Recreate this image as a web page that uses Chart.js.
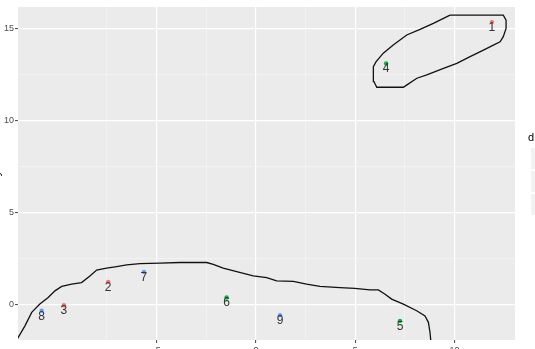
<!DOCTYPE html>
<html>
<head>
<meta charset="utf-8">
<script src="https://cdn.jsdelivr.net/npm/chart.js@4.4.1/dist/chart.umd.min.js"></script>
<style>
  html, body { margin: 0; padding: 0; background: #ffffff; overflow: hidden; width: 535px; height: 349px; }
  #wrap { position: absolute; left: -10px; top: 0; }
  canvas { display: block; }
</style>
</head>
<body>
<div id="wrap"><canvas id="c" width="560" height="375"></canvas></div>
<script>
// ---- data ----
const pointIds    = ['1', '2', '3', '4', '5', '6', '7', '8', '9'];
const pointX      = [11.88, -7.44, -9.67, 6.55, 7.25, -1.48, -5.64, -10.79, 1.21];
const pointY      = [15.36, 1.25, -0.02, 13.11, -0.87, 0.40, 1.79, -0.32, -0.56];
const pointGroup  = ['a', 'a', 'a', 'b', 'b', 'b', 'c', 'c', 'c'];
const groupNames  = ['a', 'b', 'c'];
const groupColors = ['#F8766D', '#00BA38', '#619CFF'];

const hullTopX = [9.77, 11.18, 12.45, 12.59, 12.59, 12.45, 12.29, 11.95, 11.45, 10.78, 10.11, 9.44, 8.60, 8.10, 7.60, 7.42, 6.08, 5.94, 5.91, 5.91, 6.04, 6.41, 6.91, 7.59, 8.26, 8.93, 9.77];
const hullTopY = [15.74, 15.74, 15.74, 15.47, 15.02, 14.57, 14.29, 14.11, 13.84, 13.48, 13.12, 12.85, 12.49, 12.31, 11.95, 11.82, 11.82, 12.13, 12.58, 12.94, 13.20, 13.67, 14.12, 14.66, 14.96, 15.29, 15.74];

const hullBottomX = [-12.19, -11.97, -11.63, -11.29, -10.88, -10.46, -10.12, -9.78, -9.28, -8.78, -8.36, -8.02, -7.52, -7.01, -6.51, -5.84, -4.83, -3.83, -2.48, -2.15, -1.65, -0.97, -0.14, 0.54, 1.04, 1.88, 2.55, 3.22, 4.23, 4.98, 5.74, 6.16, 6.50, 6.83, 7.42, 8.09, 8.51, 8.68, 8.76, 8.81, 8.84];
const hullBottomY = [-2.18, -1.77, -1.14, -0.41, 0.04, 0.40, 0.76, 1.00, 1.12, 1.21, 1.57, 1.89, 2.00, 2.08, 2.17, 2.24, 2.27, 2.30, 2.30, 2.20, 1.99, 1.81, 1.57, 1.48, 1.30, 1.27, 1.12, 1.00, 0.94, 0.90, 0.81, 0.81, 0.58, 0.31, 0.04, -0.32, -0.60, -0.95, -1.49, -2.04, -2.40];

const xLimits = [-11.98, 13.04];
const yLimits = [-1.91, 16.18];
const majorStep = 5;
const minorStep = 2.5;
const legendTitle = 'd';
const xTitle = 'x';
const yTitle = 'y';

// ---- helpers ----
const FONT = "'Liberation Sans', Arial, sans-serif";
const isMult = (v, s) => Math.abs(v / s - Math.round(v / s)) < 1e-6;
const zip = (xs, ys) => xs.map((x, i) => ({ x: x, y: ys[i] }));

const datasets = [
  { type: 'line', label: 'hull1', data: zip(hullTopX, hullTopY), borderColor: '#111111', borderWidth: 1.3, pointRadius: 0, tension: 0, fill: false, showLine: true, order: 2 },
  { type: 'line', label: 'hull2', data: zip(hullBottomX, hullBottomY), borderColor: '#111111', borderWidth: 1.3, pointRadius: 0, tension: 0, fill: false, showLine: true, order: 2 }
];
groupNames.forEach((g, gi) => {
  const idx = pointGroup.map((pg, i) => pg === g ? i : -1).filter(i => i >= 0);
  datasets.push({
    type: 'scatter',
    label: g,
    data: idx.map(i => ({ x: pointX[i], y: pointY[i], id: pointIds[i] })),
    backgroundColor: groupColors[gi],
    borderColor: groupColors[gi],
    pointRadius: 2.2,
    borderWidth: 0,
    order: 1
  });
});

const panelBg = {
  id: 'panelBg',
  beforeDraw(chart) {
    const { ctx, chartArea: a } = chart;
    ctx.save();
    ctx.fillStyle = '#EBEBEB';
    ctx.fillRect(a.left, a.top, a.right - a.left, a.bottom - a.top);
    ctx.restore();
  }
};

const pointLabels = {
  id: 'pointLabels',
  afterDatasetsDraw(chart) {
    const { ctx } = chart;
    ctx.save();
    ctx.font = '12px ' + FONT;
    ctx.fillStyle = '#333333';
    ctx.textAlign = 'center';
    ctx.textBaseline = 'middle';
    chart.data.datasets.forEach((ds, di) => {
      if (ds.type !== 'scatter') return;
      const meta = chart.getDatasetMeta(di);
      meta.data.forEach((el, i) => {
        ctx.fillText(ds.data[i].id, el.x, el.y + 5.5);
      });
    });
    ctx.restore();
  }
};

const ggLegend = {
  id: 'ggLegend',
  afterDraw(chart) {
    const { ctx, chartArea: a } = chart;
    const x0 = a.right + 13;
    ctx.save();
    ctx.font = '11px ' + FONT;
    ctx.fillStyle = '#000000';
    ctx.textAlign = 'left';
    ctx.textBaseline = 'middle';
    ctx.fillText(legendTitle, x0, 138);
    const keyH = 23;
    groupNames.forEach((g, i) => {
      const y = 147 + i * keyH;
      ctx.fillStyle = '#F2F2F2';
      ctx.fillRect(x0 + 2, y, 17, keyH);
      ctx.strokeStyle = '#FFFFFF';
      ctx.lineWidth = 1;
      ctx.strokeRect(x0 + 2.5, y + 0.5, 17, keyH - 1);
      ctx.fillStyle = groupColors[i];
      ctx.beginPath();
      ctx.arc(x0 + 10.5, y + keyH / 2, 2.2, 0, Math.PI * 2);
      ctx.fill();
      ctx.fillStyle = '#000000';
      ctx.font = '9px ' + FONT;
      ctx.fillText(g, x0 + 24, y + keyH / 2);
    });
    ctx.restore();
  }
};

const gridOpts = {
  color: c => (c.tick && isMult(c.tick.value, majorStep)) ? '#FFFFFF' : '#F6F6F6',
  lineWidth: c => (c.tick && isMult(c.tick.value, majorStep)) ? 1.2 : 0.6,
  tickColor: c => (c.tick && isMult(c.tick.value, majorStep)) ? '#444444' : 'rgba(0,0,0,0)',
  tickLength: 3,
  tickWidth: 1,
  drawTicks: true
};

new Chart(document.getElementById('c'), {
  type: 'scatter',
  data: { datasets: datasets },
  options: {
    responsive: false,
    animation: false,
    events: [],
    layout: { padding: { top: 7, right: 35, left: 0, bottom: 0 } },
    plugins: { legend: { display: false }, tooltip: { enabled: false } },
    scales: {
      x: {
        type: 'linear',
        min: xLimits[0],
        max: xLimits[1],
        afterBuildTicks: s => { s.ticks = s.ticks.filter(t => isMult(t.value, minorStep)); },
        afterFit: s => { s.height = 35; },
        ticks: {
          stepSize: minorStep,
          autoSkip: false,
          maxRotation: 0,
          padding: 2,
          color: '#4D4D4D',
          font: { family: FONT, size: 9 },
          callback: v => isMult(v, majorStep) ? String(v) : ''
        },
        grid: gridOpts,
        border: { display: false },
        title: { display: true, text: xTitle, color: '#000000', font: { family: FONT, size: 11 }, padding: 0 }
      },
      y: {
        type: 'linear',
        min: yLimits[0],
        max: yLimits[1],
        afterBuildTicks: s => { s.ticks = s.ticks.filter(t => isMult(t.value, minorStep)); },
        afterFit: s => { s.width = 28; },
        ticks: {
          stepSize: minorStep,
          autoSkip: false,
          padding: 1,
          color: '#4D4D4D',
          font: { family: FONT, size: 9 },
          callback: v => isMult(v, majorStep) ? String(v) : ''
        },
        grid: gridOpts,
        border: { display: false },
        title: { display: true, text: yTitle, color: '#000000', font: { family: FONT, size: 11 }, padding: 0 }
      }
    }
  },
  plugins: [panelBg, pointLabels, ggLegend]
});
</script>
</body>
</html>
